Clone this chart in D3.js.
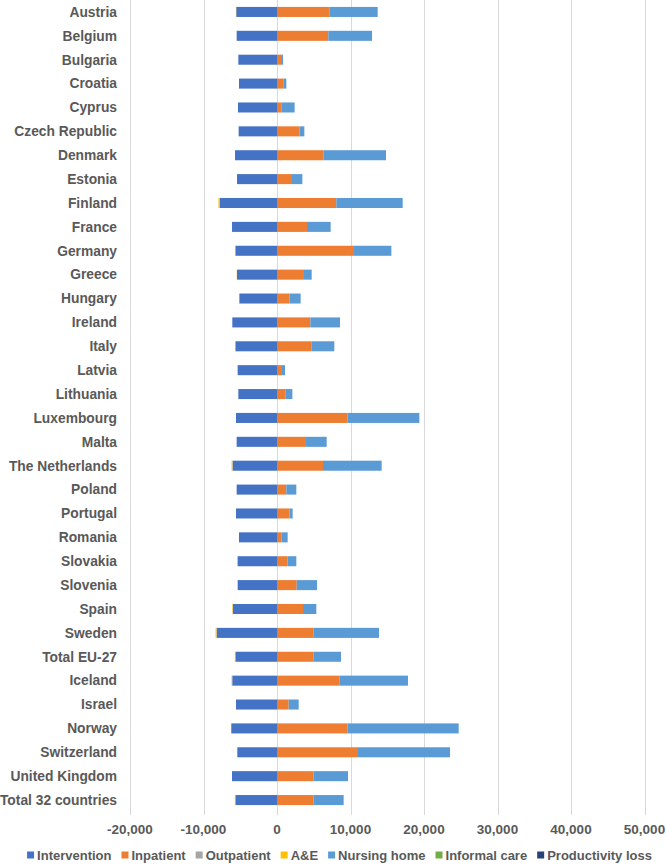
<!DOCTYPE html>
<html>
<head>
<meta charset="utf-8">
<script src="https://cdn.jsdelivr.net/npm/d3@7"></script>
<style>
  html, body { margin: 0; padding: 0; background: #fff; }
  svg { display: block; font-family: "Liberation Sans", Arial, sans-serif; }
</style>
</head>
<body>
<svg id="chart" width="666" height="867"></svg>
<script>
const countries = ["Austria","Belgium","Bulgaria","Croatia","Cyprus","Czech Republic","Denmark","Estonia","Finland","France","Germany","Greece","Hungary","Ireland","Italy","Latvia","Lithuania","Luxembourg","Malta","The Netherlands","Poland","Portugal","Romania","Slovakia","Slovenia","Spain","Sweden","Total EU-27","Iceland","Israel","Norway","Switzerland","United Kingdom","Total 32 countries"];

const intervention = [-5550,-5490,-5260,-5170,-5310,-5220,-5710,-5440,-7760,-6120,-5660,-5440,-5120,-6080,-5660,-5350,-5260,-5580,-5490,-6030,-5490,-5580,-5170,-5360,-5350,-5990,-8160,-5660,-6080,-5580,-6230,-5400,-6120,-5660];
const inpatient    = [7120,6980,680,860,590,3080,6350,2040,8070,4080,10480,3670,1720,4540,4670,680,1130,9610,3950,6260,1270,1720,630,1440,2680,3540,4940,4940,8480,1590,9610,11020,4990,4990];
const outpatient   = [0,0,0,0,0,0,0,0,-90,0,0,0,0,0,0,0,0,0,0,-60,0,0,0,0,0,-40,-90,0,-40,0,0,0,0,0];
const ae           = [-40,0,0,0,0,0,0,0,-110,0,-60,-30,0,0,-60,-30,0,0,0,-90,0,0,0,0,0,-60,-110,-70,-60,0,-40,0,0,-70];
const nursingHome  = [6580,5950,140,410,1810,640,8480,1410,9030,3220,5080,1050,1500,4030,3130,410,960,9760,2810,7980,1360,410,820,1190,2760,1810,8940,3770,9340,1360,15110,12520,4670,4080];
const informalCare = new Array(34).fill(0);
const productivityLoss = new Array(34).fill(0);

const seriesNames = ["Intervention","Inpatient","Outpatient","A&E","Nursing home","Informal care","Productivity loss"];
const seriesColors = ["#4472C4","#ED7D31","#A5A5A5","#FFC000","#5B9BD5","#70AD47","#264478"];
const tickValues = [-20000,-10000,0,10000,20000,30000,40000,50000];

const seriesArrays = [intervention, inpatient, outpatient, ae, nursingHome, informalCare, productivityLoss];
const rows = countries.map((c, i) => {
  const r = { country: c };
  seriesNames.forEach((s, k) => r[s] = seriesArrays[k][i]);
  return r;
});

const svg = d3.select("#chart");
const x = d3.scaleLinear().domain([-20000, 50000]).range([130, 644.5]);
const y = d3.scaleBand().domain(countries).range([0, 812]).paddingInner(0.58).paddingOuter(0.29);

// gridlines
svg.append("g").selectAll("line").data(tickValues).join("line")
  .attr("x1", d => Math.round(x(d)) + 0.5).attr("x2", d => Math.round(x(d)) + 0.5)
  .attr("y1", 0).attr("y2", 815)
  .attr("stroke", "#d9d9d9").attr("stroke-width", 1);

const stack = d3.stack().keys(seriesNames).offset(d3.stackOffsetDiverging);
const stacked = stack(rows);

svg.append("g").selectAll("g").data(stacked).join("g")
  .attr("fill", (d, i) => seriesColors[i])
  .selectAll("rect").data(d => d).join("rect")
  .attr("x", d => x(Math.min(d[0], d[1])))
  .attr("width", d => Math.abs(x(d[1]) - x(d[0])))
  .attr("y", d => y(d.data.country))
  .attr("height", y.bandwidth());

// category labels
svg.append("g").selectAll("text").data(countries).join("text")
  .attr("x", 117).attr("y", d => y(d) + y.bandwidth() / 2)
  .attr("dy", "0.35em").attr("text-anchor", "end")
  .attr("font-size", "13.8px").attr("font-weight", "bold").attr("fill", "#595959")
  .text(d => d);

// x axis labels
const fmt = d3.format(",");
svg.append("g").selectAll("text").data(tickValues).join("text")
  .attr("x", d => x(d)).attr("y", 829).attr("dy", "0.35em")
  .attr("text-anchor", "middle")
  .attr("font-size", "13.5px").attr("font-weight", "bold").attr("fill", "#595959")
  .text(d => fmt(d).replace("\u2212", "-"));

// legend
const lg = svg.append("g");
let cx = 0;
seriesNames.forEach((s, i) => {
  const g = lg.append("g");
  g.append("rect").attr("x", 0).attr("y", -3.5).attr("width", 7).attr("height", 7).attr("fill", seriesColors[i]);
  const t = g.append("text").attr("x", 10).attr("y", 0).attr("dy", "0.35em")
    .attr("font-size", "13px").attr("font-weight", "bold").attr("fill", "#595959").text(s);
  const w = 10 + t.node().getComputedTextLength();
  g.attr("transform", `translate(${cx},855)`);
  cx += w + 10;
});
const total = cx - 10;
lg.attr("transform", `translate(${(30 + 649) / 2 - total / 2},0)`);
</script>
</body>
</html>
